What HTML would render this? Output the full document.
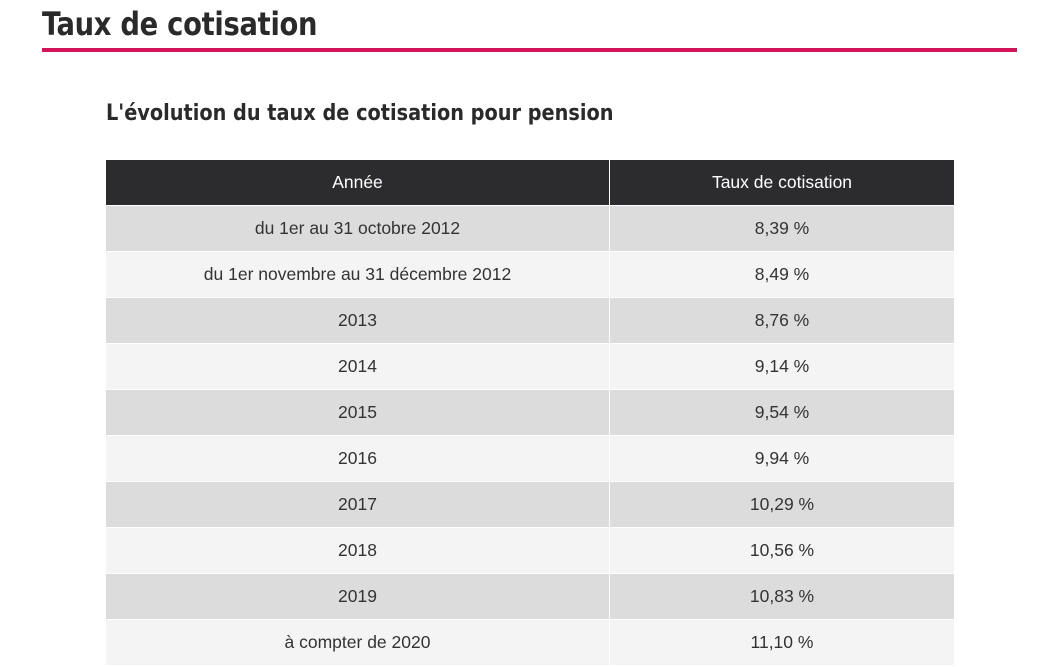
<!DOCTYPE html>
<html><head><meta charset="utf-8"><style>
html,body{margin:0;padding:0;background:#fff;width:1044px;height:667px;overflow:hidden}
.h1{position:absolute;left:42px;top:5px;font-family:"DejaVu Sans",sans-serif;font-stretch:condensed;font-weight:bold;font-size:32px;color:#2a2a2a;letter-spacing:-0.3px;white-space:nowrap;transform:scaleX(0.95);transform-origin:0 0}
.line{position:absolute;left:42px;top:48px;width:975px;height:4px;background:#d3145a}
.h2{position:absolute;left:106px;top:101px;font-family:"DejaVu Sans",sans-serif;font-stretch:condensed;font-weight:bold;font-size:22px;color:#2a2a2a;white-space:nowrap;transform:scaleX(0.975);transform-origin:0 0}
table{position:absolute;left:106px;top:160px;width:848px;border-collapse:collapse;font-family:"Liberation Sans",sans-serif;font-size:17.5px;color:#333}
td,th{height:45px;padding:0;text-align:center;border:1px solid #fff;font-weight:normal}
th{background:#2c2b2d;color:#fff;border-top:none}
tr:nth-child(odd) td{background:#dcdcdc}
tr:nth-child(even) td{background:#f4f4f4}
td:first-child,th:first-child{border-left:none;width:503px}
td:last-child,th:last-child{border-right:none}
</style></head><body>
<div class="h1">Taux de cotisation</div>
<div class="line"></div>
<div class="h2">L'évolution du taux de cotisation pour pension</div>
<table>
<thead><tr><th>Année</th><th>Taux de cotisation</th></tr></thead>
<tbody>
<tr><td>du 1er au 31 octobre 2012</td><td>8,39 %</td></tr>
<tr><td>du 1er novembre au 31 décembre 2012</td><td>8,49 %</td></tr>
<tr><td>2013</td><td>8,76 %</td></tr>
<tr><td>2014</td><td>9,14 %</td></tr>
<tr><td>2015</td><td>9,54 %</td></tr>
<tr><td>2016</td><td>9,94 %</td></tr>
<tr><td>2017</td><td>10,29 %</td></tr>
<tr><td>2018</td><td>10,56 %</td></tr>
<tr><td>2019</td><td>10,83 %</td></tr>
<tr><td>à compter de 2020</td><td>11,10 %</td></tr>
</tbody></table>
</body></html>
